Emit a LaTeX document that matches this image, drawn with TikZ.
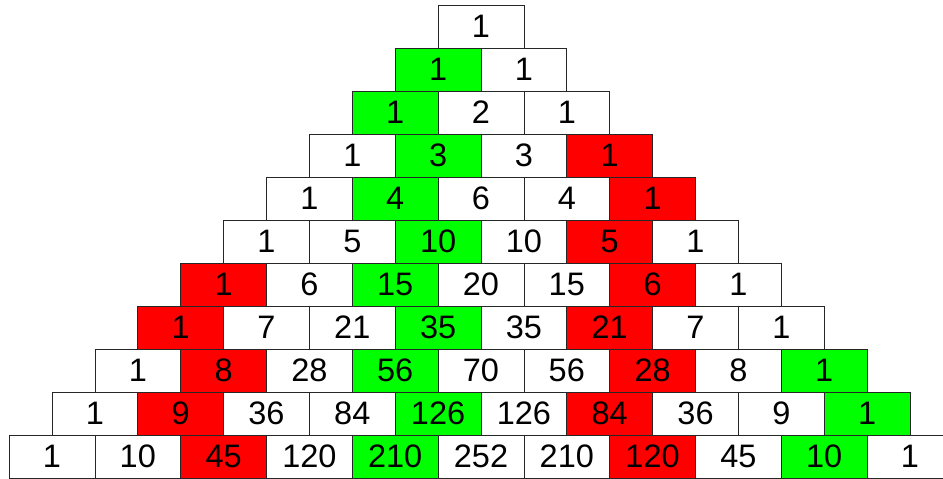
\documentclass[tikz,border=0pt]{standalone}
\usepackage{fontspec}
\setmainfont{Liberation Sans}
\definecolor{cg}{RGB}{0,255,0}
\definecolor{cr}{RGB}{255,0,0}
\newcommand\pcell[4]{\node[cell,fill=#4] (c#1-#2) at ({481+(#2-#1/2)*85.8},{26.5+43*#1}) {\raisebox{1pt}{#3}};}
\begin{document}
\begin{tikzpicture}[x=1pt,y=-1pt,
  cell/.style={draw=black!85, line width=0.8pt, minimum width=85.8pt, minimum height=43pt,
    inner sep=0pt, outer sep=0pt, font=\fontsize{32.5}{32.5}\selectfont}]
\useasboundingbox (0,0) rectangle (943,479);
\clip (0,0) rectangle (943,479);
\fill[white] (0,0) rectangle (943,479);
% row 0
\pcell{0}{0}{1}{white}
% row 1
\pcell{1}{0}{1}{cg}\pcell{1}{1}{1}{white}
% row 2
\pcell{2}{0}{1}{cg}\pcell{2}{1}{2}{white}\pcell{2}{2}{1}{white}
% row 3
\pcell{3}{0}{1}{white}\pcell{3}{1}{3}{cg}\pcell{3}{2}{3}{white}\pcell{3}{3}{1}{cr}
% row 4
\pcell{4}{0}{1}{white}\pcell{4}{1}{4}{cg}\pcell{4}{2}{6}{white}\pcell{4}{3}{4}{white}\pcell{4}{4}{1}{cr}
% row 5
\pcell{5}{0}{1}{white}\pcell{5}{1}{5}{white}\pcell{5}{2}{10}{cg}\pcell{5}{3}{10}{white}\pcell{5}{4}{5}{cr}\pcell{5}{5}{1}{white}
% row 6
\pcell{6}{0}{1}{cr}\pcell{6}{1}{6}{white}\pcell{6}{2}{15}{cg}\pcell{6}{3}{20}{white}\pcell{6}{4}{15}{white}\pcell{6}{5}{6}{cr}\pcell{6}{6}{1}{white}
% row 7
\pcell{7}{0}{1}{cr}\pcell{7}{1}{7}{white}\pcell{7}{2}{21}{white}\pcell{7}{3}{35}{cg}\pcell{7}{4}{35}{white}\pcell{7}{5}{21}{cr}\pcell{7}{6}{7}{white}\pcell{7}{7}{1}{white}
% row 8
\pcell{8}{0}{1}{white}\pcell{8}{1}{8}{cr}\pcell{8}{2}{28}{white}\pcell{8}{3}{56}{cg}\pcell{8}{4}{70}{white}\pcell{8}{5}{56}{white}\pcell{8}{6}{28}{cr}\pcell{8}{7}{8}{white}\pcell{8}{8}{1}{cg}
% row 9
\pcell{9}{0}{1}{white}\pcell{9}{1}{9}{cr}\pcell{9}{2}{36}{white}\pcell{9}{3}{84}{white}\pcell{9}{4}{126}{cg}\pcell{9}{5}{126}{white}\pcell{9}{6}{84}{cr}\pcell{9}{7}{36}{white}\pcell{9}{8}{9}{white}\pcell{9}{9}{1}{cg}
% row 10
\pcell{10}{0}{1}{white}\pcell{10}{1}{10}{white}\pcell{10}{2}{45}{cr}\pcell{10}{3}{120}{white}\pcell{10}{4}{210}{cg}\pcell{10}{5}{252}{white}\pcell{10}{6}{210}{white}\pcell{10}{7}{120}{cr}\pcell{10}{8}{45}{white}\pcell{10}{9}{10}{cg}\pcell{10}{10}{1}{white}
\end{tikzpicture}
\end{document}
